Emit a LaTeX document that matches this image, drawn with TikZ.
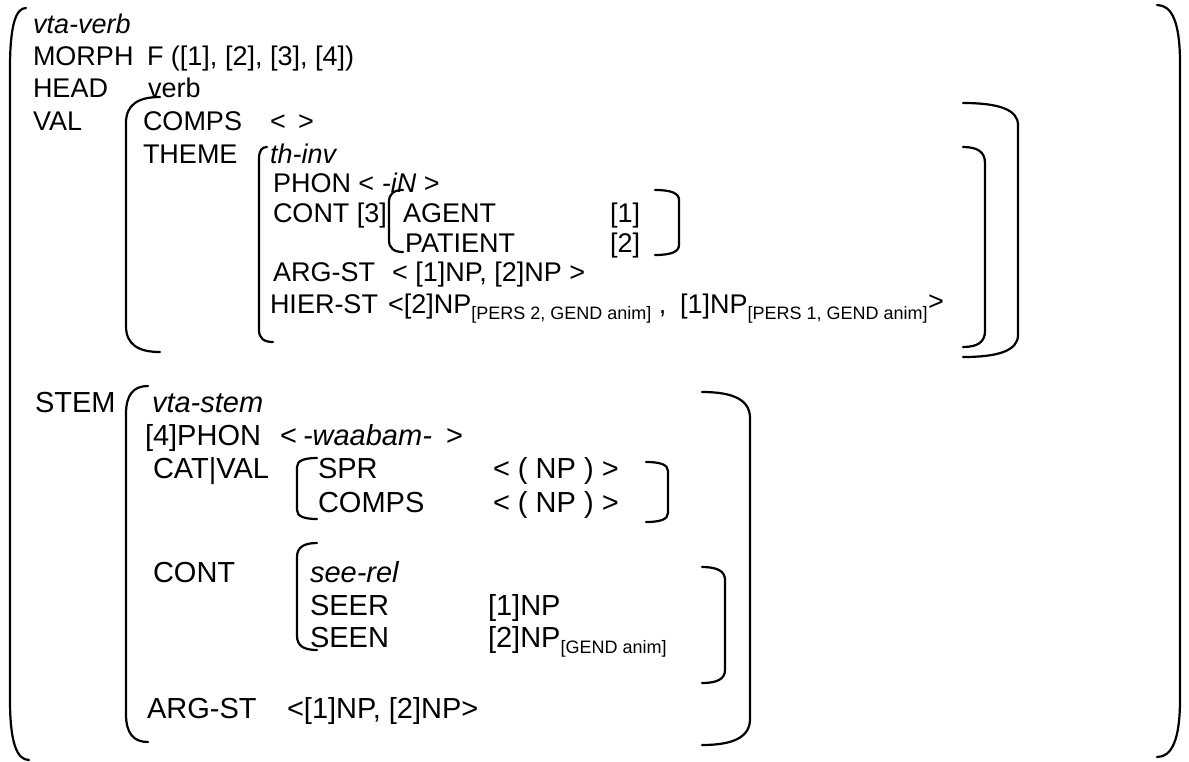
\documentclass[tikz,border=0pt]{standalone}
\usepackage{fontspec}
\setmainfont{Liberation Sans}
\usetikzlibrary{calc}
\newcommand{\sbx}[1]{\raisebox{-6pt}{\fontsize{18}{18}\selectfont #1}}
% bracket: #1 vertical x, #2 top y, #3 bottom y, #4 top end x, #5 bottom end x, #6 corner size
\newcommand{\brk}[6]{\draw[brk] (#4,#2) .. controls ($(#1,#2)!0.35!(#4,#2)$) and (#1,#2+0.3*#6) .. (#1,#2+#6) -- (#1,#3-#6) .. controls (#1,#3-0.3*#6) and ($(#1,#3)!0.35!(#5,#3)$) .. (#5,#3);}
\tikzset{
  txt/.style={anchor=base west, inner sep=0pt, outer sep=0pt, font=\fontsize{27}{27}\selectfont},
  txl/.style={anchor=base west, inner sep=0pt, outer sep=0pt, font=\fontsize{29}{29}\selectfont},
  brk/.style={line width=2.2pt, line cap=round, black}
}
\begin{document}
\begin{tikzpicture}[x=1pt,y=-1pt]
\useasboundingbox (0,0) rectangle (1189,761);
% ---- upper part
\node[txt] (a1) at (33,33) {\itshape vta-verb};
\node[txt] (a2) at (33,65) {MORPH};
\node[txt] (a3) at (147,65) {F ([1], [2], [3], [4])};
\node[txt] (a4) at (33,97) {HEAD};
\node[txt] (a5) at (148,97) {verb};
\node[txt] (a6) at (33,130) {VAL};
\node[txt] (a7) at (143,130) {COMPS};
\node[txt] (a8) at (270,130) {<};
\node[txt] (a9) at (298,130) {>};
\node[txt] (a10) at (143,163) {THEME};
\node[txt] (a11) at (270,163) {\itshape th-inv};
\node[txt] (a12) at (273,192) {PHON < \textit{-iN} >};
\node[txt] (a13) at (273,222) {CONT [3]};
\node[txt] (a14) at (403,222) {AGENT};
\node[txt] (a15) at (610,222) {[1]};
\node[txt] (a16) at (405,252) {PATIENT};
\node[txt] (a17) at (610,252) {[2]};
\node[txt] (a18) at (273,281) {ARG-ST};
\node[txt] (a19) at (392,281) {< [1]NP, [2]NP >};
\node[txt] (a20) at (270,313) {HIER-ST};
\node[txt] (a21) at (388,313) {<[2]NP\sbx{[PERS 2, GEND anim]} ,};
\node[txt] (a22) at (680,313) {[1]NP\sbx{[PERS 1, GEND anim]}};
\node[txt] (a23) at (928,310) {>};
% ---- lower part
\node[txl] (b1) at (35,412) {STEM};
\node[txl] (b2) at (152,412) {\itshape vta-stem};
\node[txl] (b3) at (145,445) {[4]PHON};
\node[txl] (b4) at (280,445) {<};
\node[txl] (b5) at (303,445) {\itshape -waabam-};
\node[txl] (b6) at (446,445) {>};
\node[txl] (b7) at (153,478) {CAT|VAL};
\node[txl] (b8) at (318,478) {SPR};
\node[txl] (b9) at (493,478) {< ( NP ) >};
\node[txl] (b10) at (318,512) {COMPS};
\node[txl] (b11) at (493,512) {< ( NP ) >};
\node[txl] (b12) at (153,582) {CONT};
\node[txl] (b13) at (310,582) {\itshape see-rel};
\node[txl] (b14) at (310,615) {SEER};
\node[txl] (b15) at (488,615) {[1]NP};
\node[txl] (b16) at (310,647) {SEEN};
\node[txl] (b17) at (488,647) {[2]NP\sbx{[GEND anim]}};
\node[txl] (b18) at (147,718) {ARG-ST};
\node[txl] (b19) at (287,718) {<[1]NP, [2]NP>};
% ---- brackets
\brk{10}{8}{760}{26}{29}{60}
\brk{1180}{5}{757}{1157}{1157}{58}
\brk{126}{97}{352}{160}{160}{26}
\brk{1018}{103}{357}{963}{963}{22}
\brk{259}{147}{342}{267}{273}{12}
\brk{985}{147}{347}{963}{963}{16}
\brk{389}{190}{252}{403}{403}{12}
\brk{679}{190}{255}{655}{655}{10}
\brk{126}{386}{742}{148}{148}{28}
\brk{750}{392}{745}{702}{702}{26}
\brk{297}{458}{519}{317}{317}{9}
\brk{668}{462}{522}{646}{646}{9}
\brk{297}{543}{650}{317}{317}{14}
\brk{725}{567}{683}{702}{702}{13}
\end{tikzpicture}
\end{document}
